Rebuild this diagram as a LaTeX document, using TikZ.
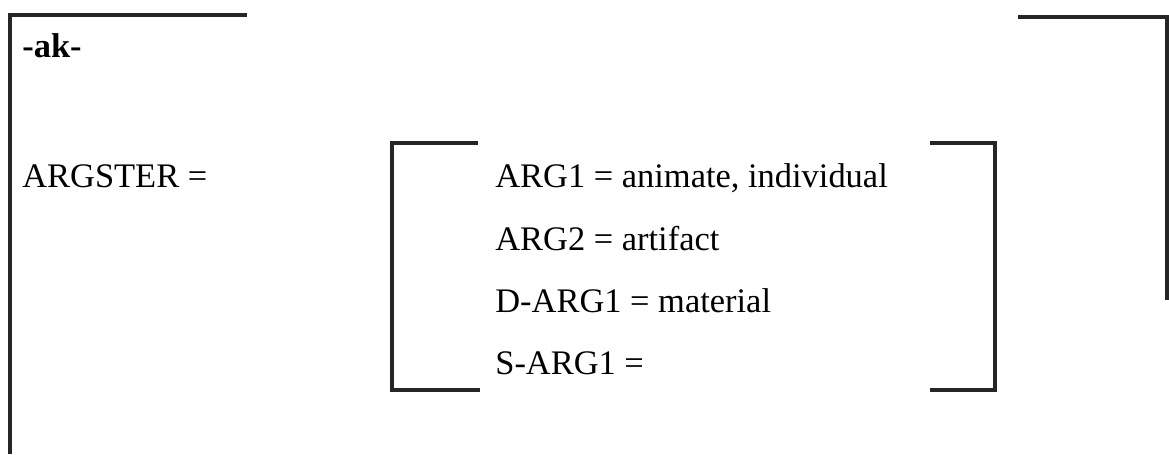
\documentclass[tikz,border=0pt]{standalone}
\usepackage{fontspec}
\setmainfont{Liberation Serif}
\begin{document}
\begin{tikzpicture}[x=0.02cm,y=-0.02cm]
	\tikzstyle{entry}=[anchor=base west,inner sep=0pt,font=\fontsize{19.6}{23}\selectfont]
	\tikzstyle{bracket}=[line width=2.2pt,draw=black!85]
	\tikzstyle{inner bracket}=[line width=1.8pt,draw=black!85]
	\useasboundingbox (0,0) rectangle (1169,454);
	% outer frame
	\draw[bracket] (10,454) -- (10,15) -- (247,15);
	\draw[bracket] (1018,17) -- (1167,17) -- (1167,300);
	\node[entry,font=\fontsize{19.6}{23}\selectfont\bfseries](ak) at (22,57) {-ak-};
	\node[entry](argster) at (22,187) {ARGSTER =};
	% argument structure
	\node[entry](arg1) at (495,187) {ARG1 = animate, individual};
	\node[entry](arg2) at (495,250) {ARG2 = artifact};
	\node[entry](darg1) at (495,312) {D-ARG1 = material};
	\node[entry](sarg1) at (495,374) {S-ARG1 =};
	\draw[inner bracket] (478,143) -- (392,143) -- (392,390) -- (480,390);
	\draw[inner bracket] (930,143) -- (995,143) -- (995,390) -- (930,390);
\end{tikzpicture}
\end{document}
